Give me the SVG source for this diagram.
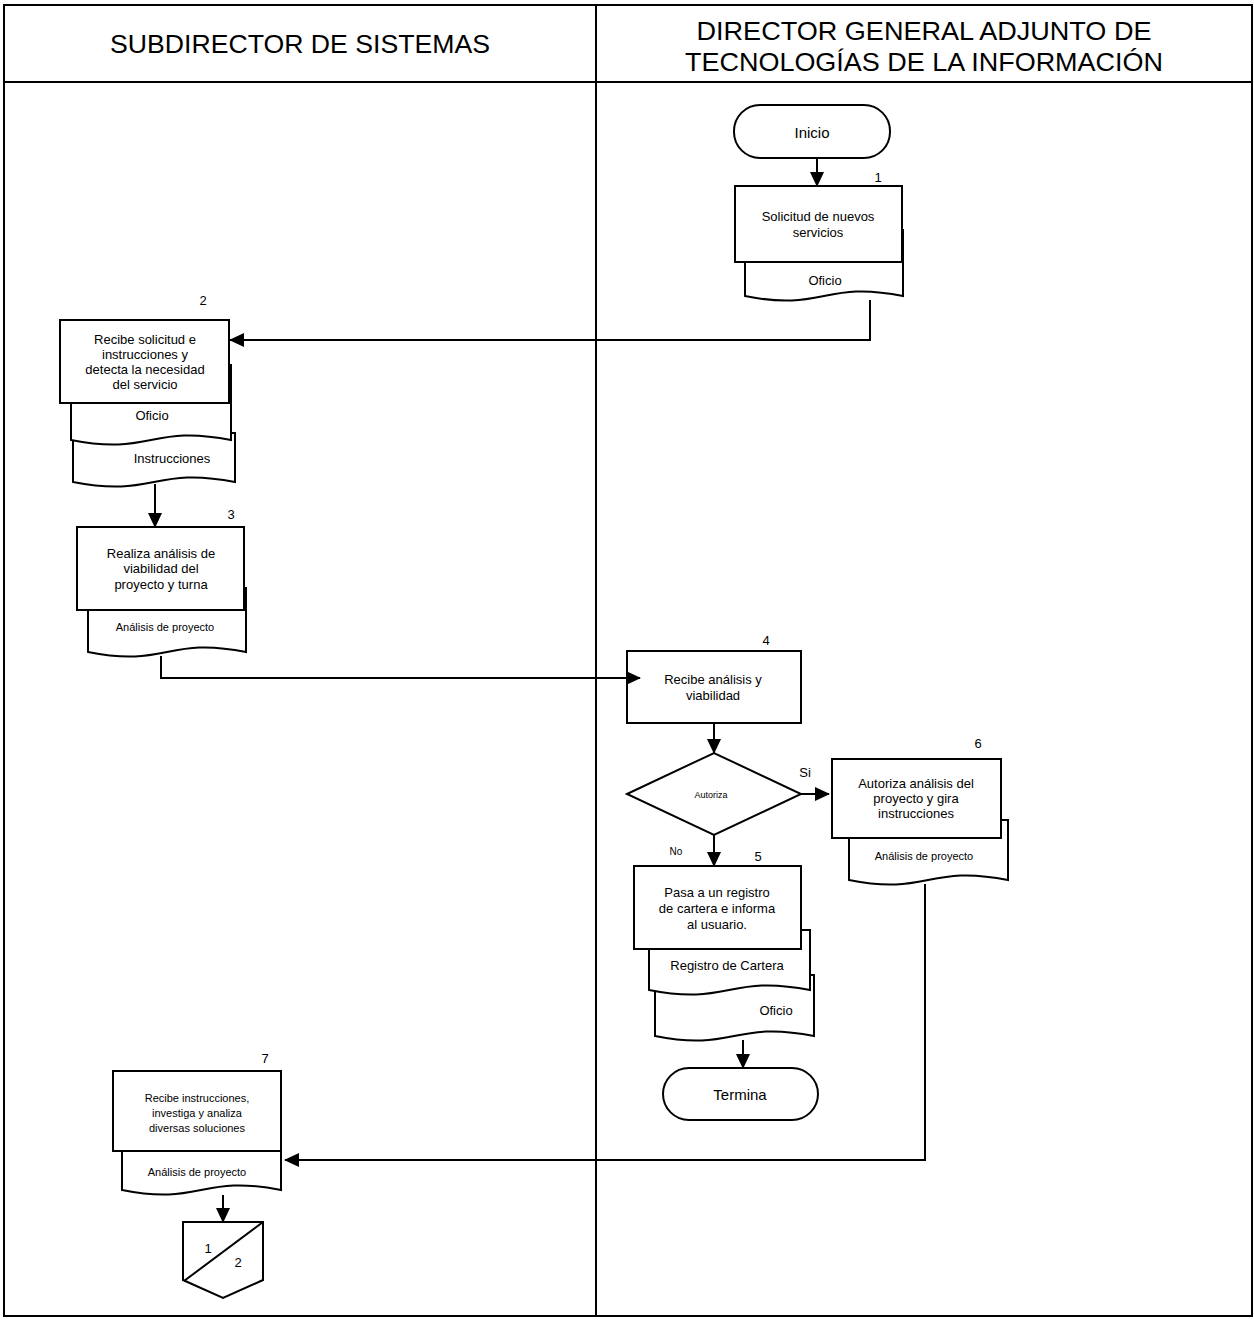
<svg xmlns="http://www.w3.org/2000/svg" width="1254" height="1320" viewBox="0 0 1254 1320">
<style>
text{font-family:"Liberation Sans",Arial,sans-serif;fill:#000}
.hd{font-size:25px;text-anchor:middle}
.t{font-size:13px;text-anchor:middle}
.s{font-size:11px;text-anchor:middle}
.n{font-size:13px;text-anchor:middle}
.shp{fill:#fff;stroke:#000;stroke-width:2}
.ln{fill:none;stroke:#000;stroke-width:2}
</style>
<defs>
<marker id="ah" markerUnits="userSpaceOnUse" markerWidth="16" markerHeight="16" refX="14" refY="8" orient="auto">
<path d="M0,1 L15,8 L0,15 Z" fill="#000"/>
</marker>
</defs>
<rect width="1254" height="1320" fill="#fff"/>
<g id="frame">
<rect x="4" y="5" width="1248" height="1311" class="ln"/>
<line x1="4" y1="82" x2="1252" y2="82" class="ln"/>
<line x1="596" y1="5" x2="596" y2="1316" class="ln"/>
<text class="hd" x="300" y="53" textLength="380" lengthAdjust="spacingAndGlyphs">SUBDIRECTOR DE SISTEMAS</text>
<text class="hd" x="924" y="40" textLength="455" lengthAdjust="spacingAndGlyphs">DIRECTOR GENERAL ADJUNTO DE</text>
<text class="hd" x="924" y="71" textLength="478" lengthAdjust="spacingAndGlyphs">TECNOLOGÍAS DE LA INFORMACIÓN</text>
</g>
<g id="inicio">
<rect x="734" y="105" width="156" height="53" rx="26" class="shp"/>
<text class="t" x="812" y="138" style="font-size:15px">Inicio</text>
</g>
<g id="n1">
<path class="shp" d="M745,230 H903 V296 C824,280 824,312 745,296 Z"/>
<text class="t" x="825" y="285">Oficio</text>
<rect x="735" y="186" width="167" height="76" class="shp"/>
<text class="n" x="878" y="182">1</text>
<text class="t" x="818" y="221">Solicitud de nuevos</text>
<text class="t" x="818" y="237">servicios</text>
</g>
<g id="n2">
<path class="shp" d="M73,433 H235 V482 C154,466 154,498 73,482 Z"/>
<text class="t" x="172" y="463">Instrucciones</text>
<path class="shp" d="M71,365 H231 V440 C151,424 151,456 71,440 Z"/>
<text class="t" x="152" y="420">Oficio</text>
<rect x="60" y="320" width="169" height="83" class="shp"/>
<text class="n" x="203" y="305">2</text>
<text class="t" x="145" y="344">Recibe solicitud e</text>
<text class="t" x="145" y="359">instrucciones y</text>
<text class="t" x="145" y="374">detecta la necesidad</text>
<text class="t" x="145" y="389">del servicio</text>
</g>
<g id="n3">
<path class="shp" d="M88,588 H246 V652 C167,636 167,668 88,652 Z"/>
<text class="s" x="165" y="631">Análisis de proyecto</text>
<rect x="77" y="527" width="167" height="83" class="shp"/>
<text class="n" x="231" y="519">3</text>
<text class="t" x="161" y="558">Realiza análisis de</text>
<text class="t" x="161" y="573">viabilidad del</text>
<text class="t" x="161" y="589">proyecto y turna</text>
</g>
<g id="n4">
<rect x="627" y="651" width="174" height="72" class="shp"/>
<text class="n" x="766" y="645">4</text>
<text class="t" x="713" y="684">Recibe análisis y</text>
<text class="t" x="713" y="700">viabilidad</text>
</g>
<g id="decision">
<polygon points="627,794 714,753 801,794 714,835" class="shp"/>
<text x="711" y="798" style="font-size:9px;text-anchor:middle">Autoriza</text>
<text x="805" y="777" style="font-size:13px;text-anchor:middle">Si</text>
<text x="676" y="855" style="font-size:10px;text-anchor:middle">No</text>
</g>
<g id="n5">
<path class="shp" d="M655,975 H814 V1036 C734,1020 734,1052 655,1036 Z"/>
<text class="t" x="776" y="1015">Oficio</text>
<path class="shp" d="M649,930 H810 V990 C729,974 729,1006 649,990 Z"/>
<text class="t" x="727" y="970">Registro de Cartera</text>
<rect x="634" y="866" width="167" height="83" class="shp"/>
<text class="n" x="758" y="861">5</text>
<text class="t" x="717" y="897">Pasa a un registro</text>
<text class="t" x="717" y="913">de cartera e informa</text>
<text class="t" x="717" y="929">al usuario.</text>
</g>
<g id="termina">
<rect x="663" y="1068" width="155" height="52" rx="26" class="shp"/>
<text class="t" x="740" y="1100" style="font-size:15px">Termina</text>
</g>
<g id="n6">
<path class="shp" d="M849,820 H1008 V880 C928,864 928,896 849,880 Z"/>
<text class="s" x="924" y="860">Análisis de proyecto</text>
<rect x="832" y="759" width="169" height="79" class="shp"/>
<text class="n" x="978" y="748">6</text>
<text class="t" x="916" y="788">Autoriza análisis del</text>
<text class="t" x="916" y="803">proyecto y gira</text>
<text class="t" x="916" y="818">instrucciones</text>
</g>
<g id="n7">
<path class="shp" d="M122,1140 H281 V1190 C201,1174 201,1206 122,1190 Z"/>
<text class="s" x="197" y="1176">Análisis de proyecto</text>
<rect x="113" y="1071" width="168" height="80" class="shp"/>
<text class="n" x="265" y="1063">7</text>
<text class="s" x="197" y="1102">Recibe instrucciones,</text>
<text class="s" x="197" y="1117">investiga y analiza</text>
<text class="s" x="197" y="1132">diversas soluciones</text>
</g>
<g id="offpage">
<path class="shp" d="M183,1222 H263 V1280 L223,1298 L183,1280 Z"/>
<line x1="184" y1="1281" x2="263" y2="1222" class="ln"/>
<text class="n" x="208" y="1253">1</text>
<text class="n" x="238" y="1267">2</text>
</g>
<g id="connectors">
<line x1="817" y1="158" x2="817" y2="186" class="ln" marker-end="url(#ah)"/>
<polyline points="870,300 870,340 230,340" class="ln" marker-end="url(#ah)"/>
<line x1="155" y1="484" x2="155" y2="527" class="ln" marker-end="url(#ah)"/>
<polyline points="161,656 161,678 640,678" class="ln" marker-end="url(#ah)"/>
<line x1="714" y1="723" x2="714" y2="753" class="ln" marker-end="url(#ah)"/>
<line x1="801" y1="794" x2="829" y2="794" class="ln" marker-end="url(#ah)"/>
<line x1="714" y1="835" x2="714" y2="866" class="ln" marker-end="url(#ah)"/>
<line x1="743" y1="1040" x2="743" y2="1068" class="ln" marker-end="url(#ah)"/>
<polyline points="925,884 925,1160 285,1160" class="ln" marker-end="url(#ah)"/>
<line x1="223" y1="1195" x2="223" y2="1222" class="ln" marker-end="url(#ah)"/>
</g>
</svg>
